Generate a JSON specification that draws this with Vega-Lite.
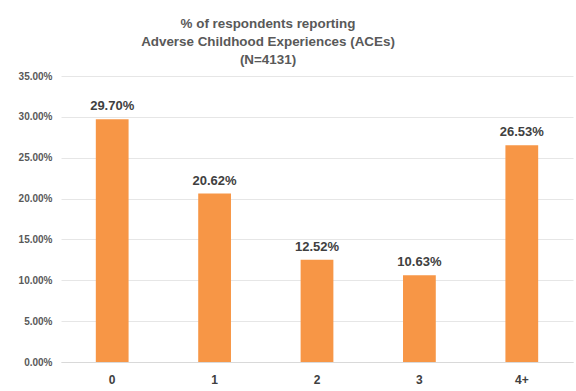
{
  "$schema": "https://vega.github.io/schema/vega-lite/v6.json",
  "autosize": {"type": "none"},
  "width": 512,
  "height": 286,
  "padding": {"left": 61, "top": 76, "right": 3, "bottom": 29},
  "background": "white",
  "config": {
    "view": {"stroke": null},
    "font": "Liberation Sans"
  },
  "title": {
    "text": ["% of respondents reporting", "Adverse Childhood Experiences (ACEs)", "(N=4131)"],
    "font": "Liberation Sans",
    "fontSize": 13.4,
    "fontWeight": "bold",
    "color": "#595959",
    "lineHeight": 18,
    "anchor": "middle",
    "dx": -49,
    "offset": 5
  },
  "data": {
    "values": [
      {"aces": "0", "pct": 0.297},
      {"aces": "1", "pct": 0.2062},
      {"aces": "2", "pct": 0.1252},
      {"aces": "3", "pct": 0.1063},
      {"aces": "4+", "pct": 0.2653}
    ]
  },
  "encoding": {
    "x": {
      "field": "aces",
      "type": "nominal",
      "sort": null,
      "scale": {"paddingInner": 0.68, "paddingOuter": 0.34},
      "axis": {
        "title": null,
        "labelAngle": 0,
        "labelFont": "Liberation Sans",
        "labelFontSize": 12,
        "labelFontWeight": "bold",
        "labelColor": "#404040",
        "labelPadding": 12,
        "ticks": false,
        "domain": true,
        "domainColor": "#d9d9d9"
      }
    },
    "y": {
      "field": "pct",
      "type": "quantitative",
      "scale": {"domain": [0, 0.35], "nice": false},
      "axis": {
        "title": null,
        "format": ".2%",
        "values": [0, 0.05, 0.1, 0.15, 0.2, 0.25, 0.3, 0.35],
        "labelFont": "Liberation Sans",
        "labelFontSize": 10,
        "labelFontWeight": "bold",
        "labelColor": "#595959",
        "labelPadding": 9,
        "ticks": false,
        "domain": false,
        "grid": true,
        "gridColor": "#e6e6e6"
      }
    }
  },
  "layer": [
    {"mark": {"type": "bar", "color": "#F79646"}},
    {
      "mark": {
        "type": "text",
        "baseline": "bottom",
        "dy": -6,
        "font": "Liberation Sans",
        "fontSize": 13,
        "fontWeight": "bold",
        "color": "#404040"
      },
      "encoding": {"text": {"field": "pct", "type": "quantitative", "format": ".2%"}}
    }
  ]
}
